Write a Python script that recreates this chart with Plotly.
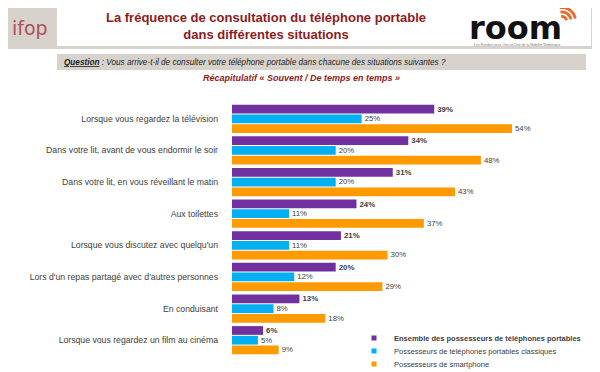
import plotly.graph_objects as go
import math

categories = [
    "Lorsque vous regardez la télévision",
    "Dans votre lit, avant de vous endormir le soir",
    "Dans votre lit, en vous réveillant le matin",
    "Aux toilettes",
    "Lorsque vous discutez avec quelqu'un",
    "Lors d'un repas partagé avec d'autres personnes",
    "En conduisant",
    "Lorsque vous regardez un film au cinéma",
]
ensemble = [39, 34, 31, 24, 21, 20, 13, 6]
classiques = [25, 20, 20, 11, 11, 12, 8, 5]
smartphone = [54, 48, 43, 37, 30, 29, 18, 9]

series_names = [
    "Ensemble des possesseurs de téléphones portables",
    "Possesseurs de téléphones portables classiques",
    "Possesseurs de smartphone",
]
colors = ["#7030A0", "#00B0F0", "#FF9A00"]

# The page body has an 8px margin, so the figure is drawn 8px smaller and
# all positions below are given in window pixels.
OFF = 8
W, H = 600 - OFF, 372 - OFF
L, R, T, B = 232, 595, 103, 356   # plot area in window pixels


def px(x):
    return (x - L) / (R - L)


def py(y):
    return (B - y) / (B - T)


fig = go.Figure()
for vals, name, col, bold in zip([ensemble, classiques, smartphone], series_names, colors, [True, False, False]):
    fig.add_trace(go.Bar(
        y=categories, x=vals, orientation="h", name=name,
        marker=dict(color=col, line=dict(width=0)),
        texttemplate="%{x}%", textposition="outside", cliponaxis=False,
        textfont=dict(family="Liberation Sans", size=9 if bold else 8, color="#404040",
                      weight="bold" if bold else "normal"),
        showlegend=False, hoverinfo="skip",
    ))

legend_ids = ["legend", "legend2", "legend3"]
for name, col, bold, lid in zip(series_names, colors, [True, False, False], legend_ids):
    fig.add_trace(go.Scatter(
        x=[None], y=[None], mode="markers", name=f"<b>{name}</b>" if bold else name,
        marker=dict(symbol="square", size=5, color=col), showlegend=True, legend=lid,
    ))

shapes = []
shapes.append(dict(type="rect", xref="paper", yref="paper", x0=px(3), x1=px(597), y0=py(3), y1=py(49),
                   fillcolor="#D8D2CC", line=dict(width=0), layer="below"))
shapes.append(dict(type="rect", xref="paper", yref="paper", x0=px(57), x1=px(591), y0=py(5), y1=py(46),
                   fillcolor="#FFFFFF", line=dict(width=0), layer="below"))
shapes.append(dict(type="rect", xref="paper", yref="paper", x0=px(57), x1=px(586), y0=py(54), y1=py(70),
                   fillcolor="#D8D2CC", line=dict(width=0), layer="below"))

cx, cy = 562, 21
for r in [4.5, 9, 13.5]:
    pts = []
    for k in range(13):
        a = math.radians(100 - k * 90 / 12)
        pts.append((px(cx + r * math.cos(a)), py(cy - r * math.sin(a))))
    path = "M " + " L ".join(f"{a:.5f},{b:.5f}" for a, b in pts)
    shapes.append(dict(type="path", xref="paper", yref="paper", path=path,
                       line=dict(color="#F26522", width=2.8)))

annotations = [
    dict(text="La fréquence de consultation du téléphone portable<br>dans différentes situations",
         x=px(266), y=py(26), xref="paper", yref="paper", showarrow=False,
         font=dict(family="Liberation Sans", size=13, color="#8E1B1B", weight="bold"),
         align="center", xanchor="center", yanchor="middle"),
    dict(text="ifop", x=px(30), y=py(28), xref="paper", yref="paper", showarrow=False,
         font=dict(family="DejaVu Sans", size=19, color="#B0505A", weight="normal"),
         xanchor="center", yanchor="middle"),
    dict(text="room", x=px(467), y=py(28.5), xref="paper", yref="paper", showarrow=False,
         font=dict(family="DejaVu Sans", size=32, color="#111111", weight="bold"),
         xanchor="left", yanchor="middle"),
    dict(text="Les Rendez-vous One-to-One de la Mobilité Numérique", x=px(472), y=py(44.5),
         xref="paper", yref="paper", showarrow=False,
         font=dict(family="Liberation Sans", size=3.5, color="#777777"),
         xanchor="left", yanchor="middle"),
    dict(text="<b><u>Question</u></b> : Vous arrive-t-il de consulter votre téléphone portable dans chacune des situations suivantes ?",
         x=px(62), y=py(62), xref="paper", yref="paper", showarrow=False,
         font=dict(family="Liberation Sans", size=8.2, color="#222222", style="italic"),
         xanchor="left", yanchor="middle"),
    dict(text="<b>Récapitulatif « Souvent / De temps en temps »</b>",
         x=px(301), y=py(78), xref="paper", yref="paper", showarrow=False,
         font=dict(family="Liberation Sans", size=9, color="#8E1B1B", style="italic"),
         xanchor="center", yanchor="middle"),
]

legend_common = dict(xanchor="left", yanchor="middle",
                     font=dict(family="Liberation Sans", size=7.5, color="#404040"),
                     bgcolor="rgba(0,0,0,0)", itemwidth=30, borderwidth=0)
legend_rows_y = [338, 351, 364]
legend_x = 354

fig.update_layout(
    width=W, height=H,
    margin=dict(l=L - OFF, r=(600 - R), t=T - OFF, b=(372 - B), pad=0, autoexpand=False),
    paper_bgcolor="white", plot_bgcolor="white",
    barmode="group", bargap=0.08, bargroupgap=0.1,
    xaxis=dict(range=[0, 70], visible=False, fixedrange=True),
    yaxis=dict(autorange="reversed", showgrid=False, zeroline=False, showline=False,
               ticks="", ticklabelstandoff=13,
               tickfont=dict(family="Liberation Sans", size=8.7, color="#404040")),
    legend=dict(x=px(legend_x), y=py(legend_rows_y[0]), **legend_common),
    legend2=dict(x=px(legend_x), y=py(legend_rows_y[1]), **legend_common),
    legend3=dict(x=px(legend_x), y=py(legend_rows_y[2]), **legend_common),
    shapes=shapes, annotations=annotations,
    font=dict(family="Liberation Sans"),
)

fig.write_html("out.html")
